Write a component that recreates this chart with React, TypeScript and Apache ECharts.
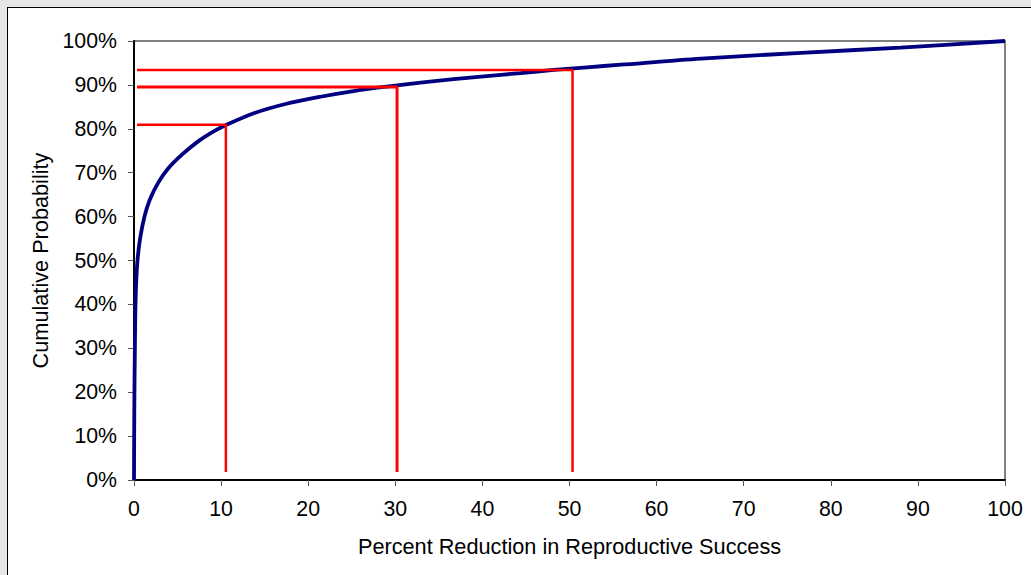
import React, { useEffect, useRef } from "react";
import * as echarts from "echarts";

const curveX = [0, 0.02, 0.05, 0.1, 0.15, 0.25, 0.4, 0.7, 1.2, 1.8, 2.8, 3.9, 5.5, 7.4, 9.3, 10.7, 13.7, 17.5, 21.4, 25.2, 29.0, 32.9, 36.7, 40.5, 44.4, 48.2, 52.0, 55.9, 65.1, 76.6, 88.0, 100];
const curveY = [0, 10, 20, 30, 38, 45, 50, 55, 60, 63.8, 67.8, 70.9, 74.1, 77.2, 79.6, 81, 83.5, 85.7, 87.3, 88.6, 89.6, 90.5, 91.3, 92.0, 92.7, 93.4, 94.0, 94.6, 96.0, 97.3, 98.5, 100];

// reference lines: [x at which curve is read, probability read]
const refX = [10.55, 30.2, 50.35];
const refY = [80.9, 89.5, 93.4];
const refStartX = 0.35;
const refBottomY = 1.8;

const xTicks = [0, 10, 20, 30, 40, 50, 60, 70, 80, 90, 100];
const yTicks = [0, 10, 20, 30, 40, 50, 60, 70, 80, 90, 100];

const xTitle = "Percent Reduction in Reproductive Success";
const yTitle = "Cumulative Probability";

export default function App() {
  const ref = useRef<HTMLDivElement>(null);
  useEffect(() => {
    if (!ref.current) return;
    const chart = echarts.init(ref.current, undefined, { renderer: "svg" });
    const font = "'Liberation Sans', Arial, sans-serif";
    const curve = curveX.map((x, i) => [x, curveY[i]]);
    const refSeries = refX.map((x, i) => ({
      type: "line",
      data: [
        [refStartX, refY[i]],
        [x, refY[i]],
        [x, refBottomY],
      ],
      showSymbol: false,
      symbol: "none",
      lineStyle: { color: "#ff0000", width: i === 1 ? 3 : 2.5 },
      z: 4,
      silent: true,
    }));
    chart.setOption({
      animation: false,
      backgroundColor: "transparent",
      grid: {
        left: 134,
        top: 41,
        right: 26,
        bottom: 95,
        show: true,
        borderColor: "#808080",
        borderWidth: 2,
        backgroundColor: "transparent",
      },
      xAxis: {
        type: "value",
        min: xTicks[0],
        max: xTicks[xTicks.length - 1],
        interval: 10,
        name: xTitle,
        nameLocation: "middle",
        nameGap: 55,
        nameTextStyle: { fontFamily: font, fontSize: 21.7, color: "#000" },
        axisLine: { show: true, onZero: false, lineStyle: { color: "#000", width: 2 } },
        axisTick: { show: true, length: 6, lineStyle: { color: "#555", width: 1 } },
        axisLabel: { fontFamily: font, fontSize: 21.3, color: "#000", margin: 18 },
        splitLine: { show: false },
      },
      yAxis: {
        type: "value",
        min: yTicks[0],
        max: yTicks[yTicks.length - 1],
        interval: 10,
        name: yTitle,
        nameLocation: "middle",
        nameGap: 82,
        nameRotate: 90,
        nameTextStyle: { fontFamily: font, fontSize: 21.7, color: "#000" },
        axisLine: { show: true, onZero: false, lineStyle: { color: "#000", width: 2 } },
        axisTick: { show: true, length: 6, lineStyle: { color: "#555", width: 1 } },
        axisLabel: {
          fontFamily: font,
          fontSize: 21.3,
          color: "#000",
          margin: 17,
          formatter: (v: number) => `${v}%`,
        },
        splitLine: { show: false },
      },
      series: [
        {
          type: "line",
          data: curve,
          showSymbol: false,
          symbol: "none",
          smooth: 0.3,
          lineStyle: { color: "#000080", width: 3.8 },
          z: 3,
          silent: true,
        },
        ...refSeries,
      ],
    });
    return () => chart.dispose();
  }, []);

  return (
    <div style={{ position: "fixed", left: 0, top: 0, width: 1031, height: 575, background: "#e6e6e6", overflow: "hidden" }}>
      <div
        style={{
          position: "absolute",
          left: 7,
          top: 7,
          width: 1200,
          height: 800,
          background: "#fff",
          borderLeft: "1px solid #000",
          borderTop: "1px solid #000",
        }}
      />
      <div ref={ref} style={{ position: "absolute", left: 0, top: 0, width: 1031, height: 575 }} />
    </div>
  );
}
